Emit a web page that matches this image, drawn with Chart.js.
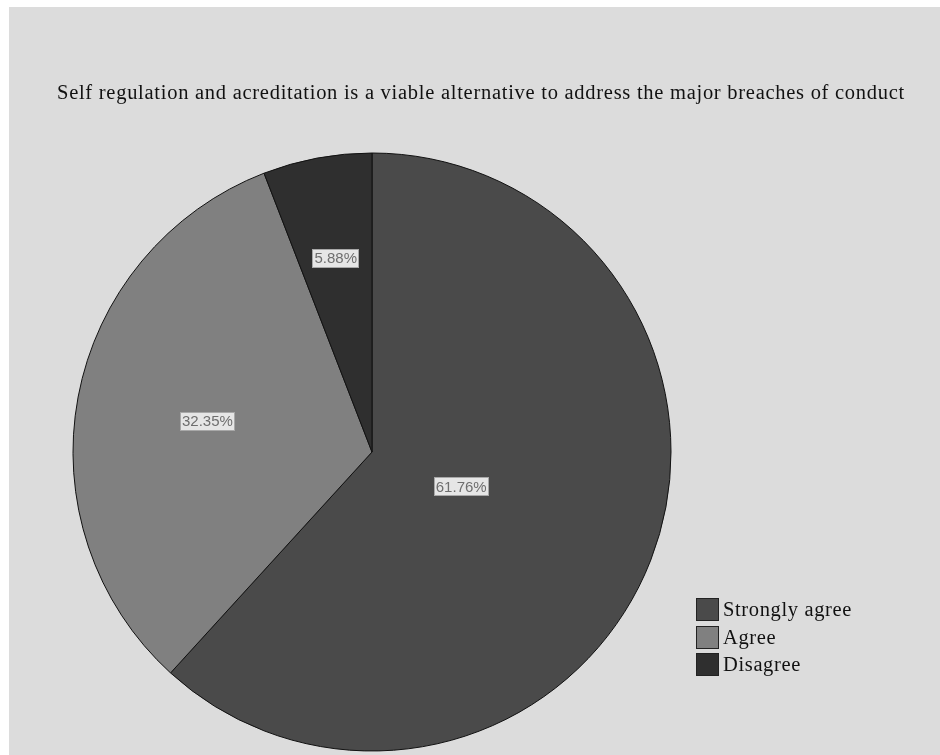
<!DOCTYPE html>
<html>
<head>
<meta charset="utf-8">
<script src="https://cdn.jsdelivr.net/npm/chart.js@4/dist/chart.umd.min.js"></script>
<style>
  html, body { margin: 0; padding: 0; background: #ffffff; }
  #frame { position: absolute; left: 9px; top: 7px; width: 931px; height: 748px; background: #dcdcdc; overflow: hidden; }
  #pie { position: absolute; left: 0; top: 0; }
  #title { position: absolute; left: 48px; top: 74px; white-space: nowrap;
           font-family: "Liberation Serif", "DejaVu Serif", serif; font-size: 20.5px; color: #111; }
  #legend { position: absolute; left: 687px; top: 589px; font-family: "Liberation Serif", serif; font-size: 20.5px; color: #111; }
  .item { height: 27.5px; display: flex; align-items: center; }
  .swatch { width: 21px; height: 21px; border: 1px solid #222; margin-right: 4px; box-sizing: content-box; flex: none; }
</style>
</head>
<body>
<div id="frame">
  <canvas id="pie" width="931" height="748"></canvas>
  <div id="title"></div>
  <div id="legend"></div>
</div>
<script>
const chartTitle = "Self regulation and acreditation is a viable alternative to address the major breaches of conduct";
const categories = ["Strongly agree", "Agree", "Disagree"];
const percentages = [61.76, 32.35, 5.88];
const sliceColors = ["#4a4a4a", "#808080", "#2f2f2f"];
// how far out along each slice's middle the value label sits (fraction of radius)
const labelDistance = [0.32, 0.56, 0.66];

// spread a line of text out to a given width with letter spacing
function spreadTo(el, width) {
  el.style.letterSpacing = '0px';
  const w = el.getBoundingClientRect().width;
  const n = el.textContent.length;
  el.style.letterSpacing = ((width - w) / n) + 'px';
}

const titleEl = document.getElementById('title');
titleEl.textContent = chartTitle;
spreadTo(titleEl, 848);

// value labels drawn in a boxed style at each slice
const valueLabels = {
  id: 'valueLabels',
  afterDatasetsDraw(chart) {
    const ctx = chart.ctx;
    const meta = chart.getDatasetMeta(0);
    ctx.save();
    ctx.font = '15px "Liberation Sans", Arial, sans-serif';
    ctx.textAlign = 'center';
    ctx.textBaseline = 'middle';
    meta.data.forEach((arc, i) => {
      const p = arc.getProps(['x', 'y', 'startAngle', 'endAngle', 'outerRadius'], true);
      const mid = (p.startAngle + p.endAngle) / 2;
      const d = p.outerRadius * labelDistance[i];
      const cx = p.x + Math.cos(mid) * d;
      const cy = p.y + Math.sin(mid) * d;
      const txt = percentages[i].toFixed(2) + '%';
      const w = Math.round(ctx.measureText(txt).width + 4);
      const h = 19;
      const x0 = Math.round(cx - w / 2), y0 = Math.round(cy - h / 2);
      ctx.fillStyle = '#e6e6e6';
      ctx.fillRect(x0, y0, w, h);
      ctx.strokeStyle = '#a8a8a8';
      ctx.lineWidth = 1;
      ctx.strokeRect(x0 + 0.5, y0 + 0.5, w - 1, h - 1);
      ctx.fillStyle = '#6e6e6e';
      ctx.fillText(txt, cx, cy + 1);
    });
    ctx.restore();
  }
};

const chart = new Chart(document.getElementById('pie'), {
  type: 'pie',
  data: {
    labels: categories,
    datasets: [{
      data: percentages,
      backgroundColor: sliceColors,
      borderColor: '#111111',
      borderWidth: 1,
      radius: 299
    }]
  },
  options: {
    responsive: false,
    animation: false,
    layout: { padding: { left: 64, top: 146, right: 269, bottom: 4 } },
    plugins: {
      legend: { display: false },
      title: { display: false },
      tooltip: { enabled: false }
    }
  },
  plugins: [valueLabels]
});

// legend built from the chart's own labels and colours
const legend = document.getElementById('legend');
chart.data.labels.forEach((lab, i) => {
  const row = document.createElement('div');
  row.className = 'item';
  const sw = document.createElement('div');
  sw.className = 'swatch';
  sw.style.background = chart.data.datasets[0].backgroundColor[i];
  const t = document.createElement('span');
  t.textContent = lab;
  row.appendChild(sw);
  row.appendChild(t);
  legend.appendChild(row);
  if (i === 0) spreadTo(t, 129);
});
// same spacing for every legend entry
const ls = legend.querySelector('span').style.letterSpacing;
legend.querySelectorAll('span').forEach(s => { s.style.letterSpacing = ls; });
</script>
</body>
</html>
